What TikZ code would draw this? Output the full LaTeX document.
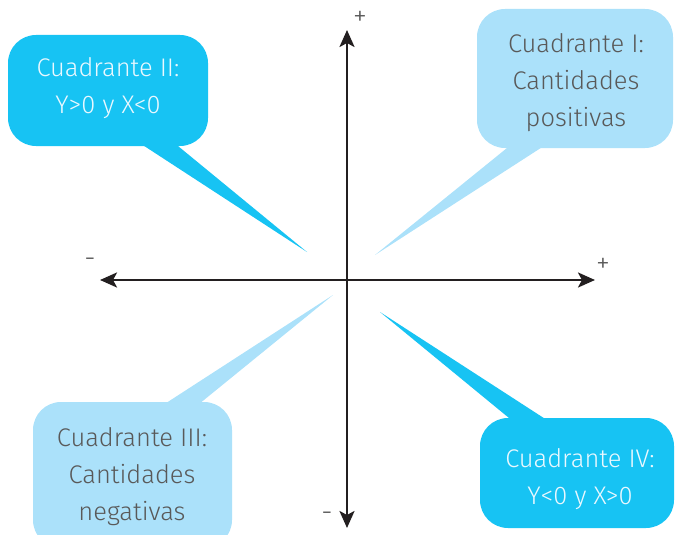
\documentclass[tikz,border=0pt]{standalone}
\usepackage{fontspec}
\setmainfont{Fira Sans}[UprightFont=* Light]
\usetikzlibrary{arrows.meta,calc}
\definecolor{bubbledark}{HTML}{17C3F3}
\definecolor{bubblelight}{HTML}{ABE1FA}
\definecolor{textlight}{HTML}{EAF8FF}
\definecolor{textgray}{HTML}{595959}
\definecolor{axisink}{HTML}{231F20}
\begin{document}
\begin{tikzpicture}[x=1pt,y=-1pt,
  bubble/.style={rectangle,rounded corners=28pt,inner sep=0pt},
  darkbubble/.style={bubble,fill=bubbledark},
  lightbubble/.style={bubble,fill=bubblelight},
  bubbletext/.style={align=center,inner sep=0pt,
    font=\fontsize{25.5}{37}\selectfont},
  axis/.style={line width=2.6pt,draw=axisink,
    -{Stealth[length=17pt,width=15pt,inset=4pt]}},
  sign/.style={text=textgray,font=\fontsize{28}{28}\selectfont,inner sep=0pt}]
\useasboundingbox (0,0) rectangle (675,535);
\clip (0,0) rectangle (675,535);

% axes
\coordinate (o) at (347,280);
\coordinate (xl) at (100,280);
\coordinate (xr) at (595,280);
\coordinate (yt) at (347,30);
\coordinate (yb) at (347,528);
\draw[axis] (o) -- (xl);
\draw[axis] (o) -- (xr);
\draw[axis] (o) -- (yt);
\draw[axis] (o) -- (yb);

% axis signs
\node[sign] (pt) at (360,18) {+};
\node[sign] (pr) at (603,265) {+};
\node[sign] (ml) at (90,263) {-};
\node[sign] (mb) at (327,517) {-};

% speech bubbles
\node[lightbubble,minimum width=196pt,minimum height=139pt] (q1) at (575,78.5) {};
\node[darkbubble,minimum width=200pt,minimum height=111pt] (q2) at (108,90.5) {};
\node[lightbubble,minimum width=199pt,minimum height=146pt] (q3) at (132.5,475) {};
\node[darkbubble,minimum width=194pt,minimum height=110pt] (q4) at (577,473) {};

% bubble tails
\coordinate (t1) at (375,255);
\coordinate (t2) at (307,252);
\coordinate (t3) at (333,295);
\coordinate (t4) at (380,312);
\fill[bubblelight] ($(q1.south)+(-67,-1)$) -- (t1) -- ($(q1.south)+(-33,-1)$) -- cycle;
\fill[bubbledark]  ($(q2.south)+(35,-1)$) -- (t2) -- ($(q2.south)+(69,-1)$) -- cycle;
\fill[bubblelight] ($(q3.north)+(34,1)$) -- (t3) -- ($(q3.north)+(68,1)$) -- cycle;
\fill[bubbledark]  ($(q4.north)+(-67,1)$) -- (t4) -- ($(q4.north)+(-32,1)$) -- cycle;

% bubble texts
\node[bubbletext,text=textgray]  (l1) at (576,83)  {Cuadrante I:\\Cantidades\\positivas};
\node[bubbletext,text=textlight] (l2) at (108,88)  {Cuadrante II:\\Y>0 y X<0};
\node[bubbletext,text=textgray]  (l3) at (132,477) {Cuadrante III:\\Cantidades\\negativas};
\node[bubbletext,text=textlight] (l4) at (580,479) {Cuadrante IV:\\Y<0 y X>0};
\end{tikzpicture}
\end{document}
